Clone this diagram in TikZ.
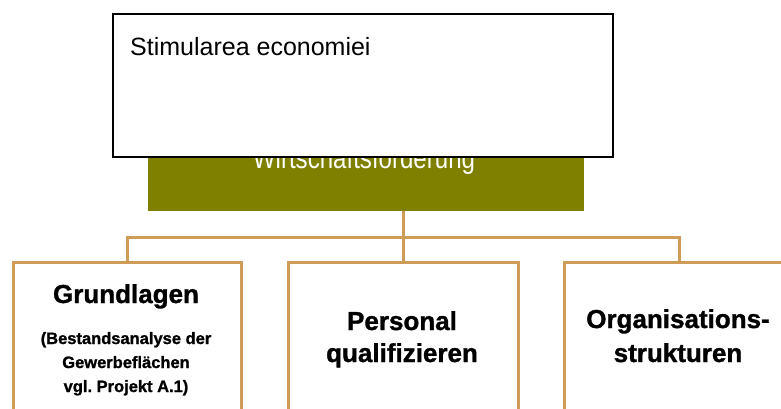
\documentclass[tikz,border=0pt]{standalone}
\usepackage{fontspec}
\setmainfont{Liberation Sans}
\newfontfamily\heavyfont{Liberation Sans Bold}[FakeBold=1.2]
\frenchspacing
\definecolor{olivebox}{RGB}{128,128,0}
\definecolor{tanline}{RGB}{207,156,88}
\begin{document}
\begin{tikzpicture}[x=1pt,y=-1pt,
  branchbox/.style={draw=tanline,line width=3pt,fill=white,minimum width=228pt,minimum height=190pt,inner sep=0pt,anchor=north west},
  conn/.style={draw=tanline,line width=3pt},
  boldlabel/.style={font=\fontsize{26}{30}\heavyfont,anchor=base,inner sep=0pt},
  smalllabel/.style={font=\fontsize{16.5}{20}\heavyfont,anchor=base,inner sep=0pt}]
\useasboundingbox (0,0) rectangle (781,408);
\clip (0,0) rectangle (781,408);
\fill[white] (0,0) rectangle (781,408);

% top olive box
\node[fill=olivebox,minimum width=436pt,minimum height=111pt,inner sep=0pt,anchor=north west] (ob) at (148,100) {};
\node[text=white,font=\fontsize{29}{32}\selectfont,anchor=base,inner sep=0pt] (obt) at (364,168) {\scalebox{0.83}[1]{Wirtschaftsförderung}};

% white overlay box
\node[draw=black,line width=2pt,fill=white,minimum width=500pt,minimum height=143pt,inner sep=0pt,anchor=north west] (wb) at (112,13) {};
\node[font=\fontsize{25}{30}\selectfont,anchor=base west,inner sep=0pt] (wbt) at (130,55) {Stimularea economiei};

% branch boxes
\node[branchbox] (lb) at (12,261) {};
\node[branchbox,minimum width=230pt] (mb) at (287,261) {};
\node[branchbox,minimum width=230pt] (rb) at (563,261) {};

% connectors
\coordinate (hub) at (402,237);
\draw[conn] (lb.north) |- (hub) -| (rb.north);
\draw[conn] (ob.south -| mb.north) -- (mb.north);

% labels
\node[boldlabel] (l1) at (126,303) {Grundlagen};
\node[smalllabel] (l1a) at (126,344) {(Bestandsanalyse der};
\node[smalllabel] (l1b) at (126,368) {Gewerbeflächen};
\node[smalllabel] (l1c) at (126,392) {vgl. Projekt A.1)};
\node[boldlabel] (m1) at (402,330) {Personal};
\node[boldlabel] (m2) at (402,362) {qualifizieren};
\node[boldlabel] (r1) at (678,328) {Organisations-};
\node[boldlabel] (r2) at (678,362) {strukturen};
\end{tikzpicture}
\end{document}
